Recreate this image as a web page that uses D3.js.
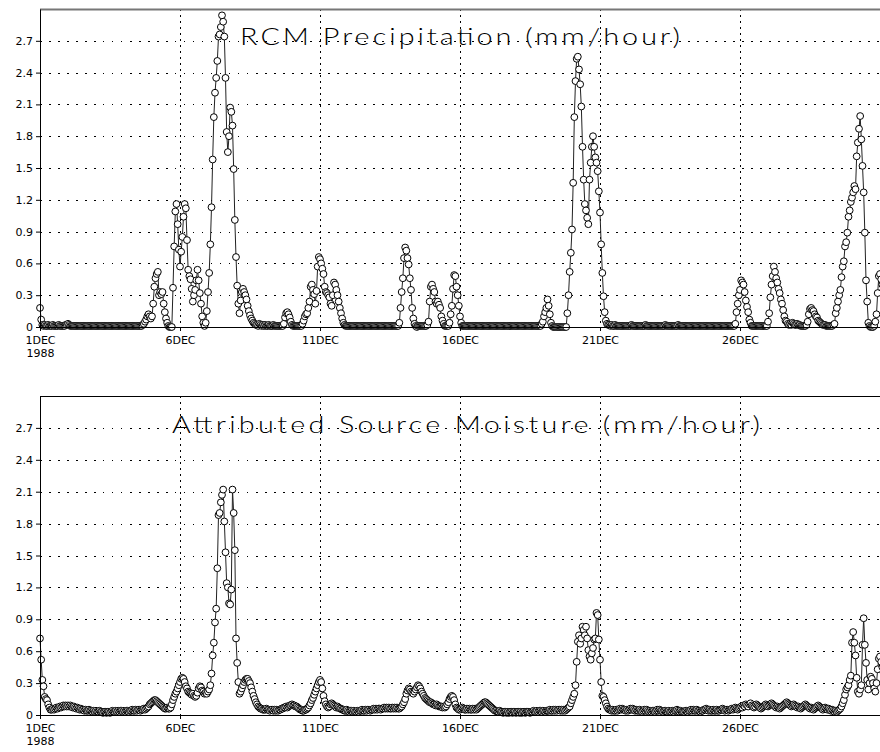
<!DOCTYPE html>
<html>
<head>
<meta charset="utf-8">
<script src="https://cdn.jsdelivr.net/npm/d3@7"></script>
<style>
  body { margin: 0; background: #fff; }
  svg { display: block; }
  .tick text { font-family: "DejaVu Sans", sans-serif; font-size: 11px; fill: #000; }
</style>
</head>
<body>
<div id="chart"></div>
<script>
// hourly values from 1 Dec 1988 00z, one line per day
var precip = [
  0.18,0.07,0.02,0.01,0.02,0.01,0.01,0.02,0.01,0.01,0.01,0.02,0.01,0.01,0.01,0.01,0.02,0.01,0.01,0.01,0.01,0.01,0.02,0.02,
  0.03,0.02,0.01,0.01,0.01,0.01,0.01,0.01,0.01,0.01,0.01,0.01,0.01,0.01,0.01,0.01,0.01,0.01,0.01,0.01,0.01,0.01,0.01,0.01,
  0.01,0.01,0.01,0.01,0.01,0.01,0.01,0.01,0.01,0.01,0.01,0.01,0.01,0.01,0.01,0.01,0.01,0.01,0.01,0.01,0.01,0.01,0.01,0.01,
  0.01,0.01,0.01,0.01,0.01,0.01,0.01,0.01,0.01,0.01,0.01,0.01,0.01,0.01,0.01,0.01,0.02,0.03,0.05,0.07,0.1,0.12,0.1,0.08,
  0.1,0.22,0.38,0.46,0.5,0.52,0.3,0.33,0.31,0.33,0.22,0.14,0.08,0.04,0.01,0,0,0,0.37,0.76,1.09,1.16,0.97,0.73,
  0.57,0.71,0.85,1.04,1.16,1.12,0.82,0.54,0.48,0.45,0.36,0.24,0.3,0.35,0.44,0.54,0.44,0.32,0.22,0.1,0.04,0.01,0.04,0.15,
  0.33,0.51,0.78,1.13,1.58,1.98,2.21,2.35,2.51,2.74,2.76,2.83,2.94,2.88,2.74,2.35,1.84,1.65,1.8,2.07,2.03,1.9,1.49,1.01,
  0.66,0.39,0.22,0.13,0.25,0.33,0.36,0.33,0.3,0.26,0.2,0.15,0.11,0.08,0.06,0.04,0.03,0.02,0.02,0.01,0.03,0.02,0.01,0.02,
  0.01,0.02,0.01,0.01,0.02,0.01,0.01,0.01,0.02,0.01,0.01,0.01,0.01,0.01,0.01,0.01,0.01,0.03,0.09,0.13,0.14,0.12,0.09,0.05,
  0.02,0.01,0.01,0.01,0.01,0.01,0.01,0.01,0.01,0.03,0.06,0.1,0.12,0.13,0.18,0.24,0.38,0.4,0.35,0.31,0.22,0.34,0.57,0.66,
  0.64,0.6,0.55,0.5,0.38,0.33,0.32,0.3,0.28,0.22,0.2,0.3,0.42,0.4,0.35,0.3,0.24,0.18,0.13,0.08,0.04,0.02,0.01,0.01,
  0.01,0.01,0.01,0.01,0.01,0.01,0.01,0.01,0.01,0.01,0.01,0.01,0.01,0.01,0.01,0.01,0.01,0.01,0.01,0.01,0.01,0.01,0.01,0.01,
  0.01,0.01,0.01,0.01,0.01,0.01,0.01,0.01,0.01,0.01,0.01,0.01,0.01,0.01,0.01,0.01,0.01,0.01,0.01,0.01,0.04,0.18,0.33,0.46,
  0.65,0.75,0.72,0.65,0.59,0.46,0.35,0.18,0.08,0.03,0.01,0,0.01,0.01,0.01,0.01,0.01,0.01,0.01,0.01,0.02,0.05,0.24,0.38,
  0.4,0.36,0.33,0.24,0.22,0.24,0.21,0.18,0.1,0.06,0.03,0.01,0.01,0.01,0.01,0.04,0.12,0.2,0.36,0.49,0.48,0.38,0.3,0.2,
  0.1,0.04,0.01,0.01,0.01,0.01,0.01,0.01,0.01,0.01,0.01,0.01,0.01,0.01,0.01,0.01,0.01,0.01,0.01,0.01,0.01,0.01,0.01,0.01,
  0.01,0.01,0.01,0.01,0.01,0.01,0.01,0.01,0.01,0.01,0.01,0.01,0.01,0.01,0.01,0.01,0.01,0.01,0.01,0.01,0.01,0.01,0.01,0.01,
  0.01,0.01,0.01,0.01,0.01,0.01,0.01,0.01,0.01,0.01,0.01,0.01,0.01,0.01,0.01,0.01,0.01,0.01,0.01,0.01,0.01,0.01,0.03,0.05,
  0.1,0.14,0.18,0.26,0.2,0.12,0.04,0.01,0,0,0,0,0,0,0,0,0,0,0,0,0.13,0.3,0.52,0.7,
  0.92,1.36,1.98,2.32,2.53,2.55,2.43,2.29,2.08,1.7,1.39,1.16,1.1,1.03,0.97,1.39,1.55,1.7,1.8,1.7,1.6,1.55,1.47,1.28,
  1.08,0.78,0.51,0.29,0.14,0.06,0.03,0.02,0.02,0.01,0.02,0.01,0.01,0.02,0.01,0.01,0.01,0.01,0.01,0.01,0.01,0.01,0.01,0.01,
  0.01,0.01,0.01,0.02,0.01,0.01,0.01,0.01,0.01,0.01,0.01,0.01,0.01,0.01,0.01,0.02,0.01,0.01,0.01,0.01,0.01,0.01,0.01,0.01,
  0.01,0.01,0.01,0.01,0.01,0.01,0.01,0.01,0.02,0.01,0.01,0.01,0.01,0.01,0.01,0.01,0.01,0.01,0.01,0.02,0.01,0.01,0.01,0.01,
  0.01,0.01,0.01,0.01,0.01,0.01,0.01,0.01,0.01,0.01,0.01,0.01,0.01,0.01,0.01,0.01,0.01,0.01,0.01,0.01,0.01,0.01,0.01,0.01,
  0.01,0.01,0.01,0.01,0.01,0.01,0.01,0.01,0.01,0.01,0.01,0.01,0.01,0.01,0.01,0.01,0.01,0.01,0.01,0.01,0.03,0.14,0.22,0.3,
  0.35,0.44,0.42,0.4,0.33,0.25,0.19,0.14,0.07,0.04,0.01,0.01,0.01,0.01,0.01,0.01,0.01,0.01,0.01,0.01,0.01,0.01,0.01,0.01,
  0.05,0.13,0.28,0.4,0.48,0.57,0.52,0.46,0.42,0.36,0.32,0.26,0.22,0.16,0.1,0.06,0.05,0.03,0.02,0.03,0.02,0.04,0.03,0.02,
  0.02,0.03,0.02,0.02,0.01,0.01,0.01,0.01,0.01,0.02,0.05,0.12,0.17,0.18,0.16,0.15,0.12,0.1,0.09,0.06,0.05,0.04,0.03,0.02,
  0.02,0.02,0.01,0.01,0.01,0.01,0.01,0.01,0.02,0.03,0.13,0.18,0.24,0.3,0.35,0.47,0.57,0.62,0.76,0.8,0.89,1.04,1.1,1.18,
  1.22,1.27,1.33,1.3,1.61,1.74,1.87,1.99,1.77,1.52,1.27,0.89,0.44,0.24,0.04,0.01,0,0,0,0.01,0.05,0.12,0.32,0.48,
  0.5,0.45,0.4,0.35
];

var moisture = [
  0.72,0.52,0.33,0.27,0.17,0.15,0.14,0.1,0.07,0.05,0.05,0.06,0.05,0.06,0.07,0.06,0.07,0.08,0.07,0.08,0.09,0.08,0.09,0.08,
  0.09,0.08,0.09,0.08,0.07,0.08,0.07,0.06,0.07,0.06,0.05,0.06,0.05,0.05,0.04,0.05,0.04,0.04,0.05,0.04,0.04,0.03,0.04,0.03,
  0.04,0.03,0.03,0.04,0.03,0.03,0.02,0.03,0.03,0.02,0.03,0.03,0.02,0.03,0.04,0.03,0.03,0.04,0.03,0.04,0.03,0.04,0.04,0.03,
  0.04,0.03,0.04,0.04,0.03,0.04,0.04,0.05,0.04,0.04,0.05,0.04,0.05,0.05,0.04,0.05,0.05,0.06,0.05,0.06,0.07,0.08,0.1,0.11,
  0.12,0.13,0.14,0.14,0.13,0.12,0.11,0.1,0.09,0.08,0.07,0.06,0.06,0.07,0.06,0.06,0.07,0.1,0.14,0.17,0.2,0.22,0.25,0.28,
  0.31,0.34,0.35,0.34,0.31,0.27,0.25,0.22,0.21,0.2,0.19,0.2,0.18,0.17,0.18,0.21,0.25,0.27,0.26,0.23,0.22,0.2,0.21,0.2,
  0.22,0.24,0.28,0.39,0.56,0.68,0.87,1.0,1.38,1.88,1.9,2.0,2.07,2.12,1.82,1.53,1.24,1.2,1.05,1.04,1.18,2.12,1.9,1.55,
  0.72,0.49,0.31,0.2,0.22,0.25,0.28,0.31,0.33,0.34,0.34,0.32,0.3,0.26,0.22,0.18,0.15,0.12,0.1,0.08,0.07,0.06,0.06,0.05,
  0.05,0.05,0.06,0.05,0.05,0.04,0.05,0.05,0.04,0.05,0.04,0.05,0.04,0.05,0.05,0.06,0.06,0.07,0.07,0.08,0.07,0.08,0.09,0.09,
  0.1,0.09,0.09,0.08,0.08,0.07,0.06,0.05,0.05,0.04,0.04,0.05,0.05,0.06,0.07,0.09,0.11,0.14,0.16,0.19,0.22,0.25,0.28,0.31,
  0.33,0.31,0.25,0.18,0.13,0.1,0.08,0.07,0.08,0.1,0.11,0.1,0.09,0.08,0.07,0.08,0.07,0.06,0.06,0.05,0.05,0.04,0.04,0.05,
  0.04,0.03,0.04,0.04,0.03,0.04,0.03,0.03,0.04,0.03,0.04,0.04,0.05,0.04,0.04,0.05,0.04,0.05,0.05,0.04,0.05,0.05,0.06,0.05,
  0.06,0.05,0.06,0.06,0.05,0.06,0.06,0.07,0.06,0.07,0.06,0.07,0.06,0.06,0.07,0.06,0.07,0.06,0.07,0.06,0.06,0.07,0.08,0.1,
  0.12,0.15,0.2,0.23,0.25,0.24,0.22,0.21,0.2,0.22,0.24,0.26,0.28,0.27,0.25,0.22,0.2,0.18,0.16,0.15,0.14,0.13,0.12,0.12,
  0.11,0.1,0.1,0.09,0.1,0.09,0.08,0.08,0.08,0.07,0.08,0.07,0.08,0.1,0.12,0.15,0.17,0.18,0.17,0.14,0.1,0.07,0.06,0.05,
  0.05,0.06,0.07,0.06,0.05,0.05,0.06,0.05,0.06,0.05,0.05,0.06,0.05,0.06,0.05,0.06,0.07,0.08,0.09,0.1,0.11,0.12,0.12,0.11,
  0.1,0.09,0.08,0.07,0.06,0.05,0.04,0.04,0.03,0.03,0.04,0.03,0.03,0.02,0.03,0.03,0.02,0.03,0.02,0.03,0.03,0.02,0.03,0.03,
  0.02,0.03,0.03,0.02,0.03,0.02,0.03,0.03,0.02,0.03,0.03,0.03,0.02,0.03,0.03,0.04,0.03,0.03,0.04,0.03,0.04,0.04,0.03,0.04,
  0.04,0.03,0.04,0.04,0.04,0.05,0.04,0.04,0.05,0.04,0.05,0.04,0.05,0.05,0.04,0.05,0.04,0.05,0.04,0.05,0.06,0.07,0.08,0.11,
  0.14,0.17,0.2,0.28,0.5,0.69,0.75,0.67,0.72,0.83,0.8,0.75,0.83,0.72,0.61,0.55,0.52,0.58,0.63,0.71,0.72,0.96,0.94,0.71,
  0.52,0.31,0.18,0.17,0.14,0.11,0.08,0.06,0.05,0.05,0.04,0.05,0.04,0.04,0.05,0.04,0.05,0.06,0.05,0.06,0.05,0.05,0.04,0.05,
  0.04,0.05,0.06,0.05,0.06,0.05,0.04,0.05,0.04,0.04,0.05,0.04,0.03,0.04,0.05,0.04,0.05,0.04,0.03,0.04,0.03,0.04,0.04,0.03,
  0.04,0.05,0.04,0.05,0.04,0.04,0.03,0.04,0.04,0.03,0.03,0.04,0.03,0.03,0.04,0.03,0.04,0.04,0.05,0.04,0.03,0.04,0.03,0.03,
  0.03,0.04,0.04,0.03,0.04,0.04,0.05,0.04,0.05,0.04,0.04,0.05,0.04,0.04,0.03,0.04,0.04,0.05,0.05,0.06,0.05,0.04,0.05,0.04,
  0.04,0.05,0.04,0.04,0.05,0.04,0.04,0.05,0.05,0.06,0.05,0.04,0.05,0.05,0.04,0.05,0.05,0.06,0.05,0.06,0.07,0.06,0.05,0.06,
  0.07,0.08,0.07,0.09,0.08,0.1,0.09,0.08,0.1,0.11,0.09,0.08,0.07,0.08,0.1,0.09,0.08,0.07,0.06,0.07,0.08,0.09,0.1,0.09,
  0.08,0.09,0.1,0.11,0.1,0.09,0.08,0.07,0.08,0.07,0.06,0.07,0.08,0.09,0.1,0.11,0.12,0.11,0.1,0.09,0.08,0.09,0.1,0.09,
  0.08,0.07,0.08,0.07,0.06,0.07,0.08,0.09,0.1,0.09,0.08,0.07,0.06,0.07,0.06,0.05,0.06,0.07,0.08,0.09,0.08,0.07,0.06,0.05,
  0.06,0.07,0.06,0.05,0.06,0.05,0.04,0.05,0.04,0.03,0.04,0.03,0.04,0.05,0.06,0.08,0.11,0.14,0.19,0.24,0.26,0.28,0.33,0.37,
  0.68,0.78,0.68,0.56,0.35,0.22,0.2,0.24,0.28,0.66,0.91,0.66,0.49,0.33,0.24,0.3,0.36,0.34,0.3,0.25,0.22,0.3,0.43,0.53,
  0.55,0.5,0.45,0.4
];

var dayTicks = [1, 6, 11, 16, 21, 26];
var tickLabels = ["1DEC", "6DEC", "11DEC", "16DEC", "21DEC", "26DEC"];
var yearLabel = "1988";
var yTicks = [0, 0.3, 0.6, 0.9, 1.2, 1.5, 1.8, 2.1, 2.4, 2.7];
var titles = ["RCM Precipitation (mm/hour)", "Attributed Source Moisture (mm/hour)"];

var width = 880, height = 752;
var left = 40;
var stretch = 1.2; // titles are drawn wide, like the plotter font

var svg = d3.select("#chart").append("svg")
	.attr("width", width)
	.attr("height", height);

// hours since 1 Dec 00z -> pixels, 28px per day
var x = d3.scaleLinear().domain([0, 720]).range([left, 880]);

var panels = [
	{ data: precip,   title: titles[0], y0: 327, y1: 9,   tx: 240, tw: 440, ty: 45,  top: "#777" },
	{ data: moisture, title: titles[1], y0: 715, y1: 396, tx: 172, tw: 588, ty: 433, top: "#000" }
];

panels.forEach(function(p) {
	var y = d3.scaleLinear().domain([0, 3.0]).range([p.y0, p.y1]);
	var g = svg.append("g");

	// dotted grid
	g.selectAll(".hgrid")
		.data(yTicks.slice(1))
		.enter().append("line")
		.attr("x1", left).attr("x2", width)
		.attr("y1", function(d) { return Math.round(y(d)) + 0.5; })
		.attr("y2", function(d) { return Math.round(y(d)) + 0.5; })
		.attr("stroke", "#000")
		.attr("stroke-width", 1)
		.attr("stroke-dasharray", "1.5,7.5")
		.attr("shape-rendering", "crispEdges");

	g.selectAll(".vgrid")
		.data(dayTicks.slice(1))
		.enter().append("line")
		.attr("x1", function(d) { return Math.round(x((d - 1) * 24)) + 0.5; })
		.attr("x2", function(d) { return Math.round(x((d - 1) * 24)) + 0.5; })
		.attr("y1", p.y1).attr("y2", p.y0)
		.attr("stroke", "#000")
		.attr("stroke-width", 1)
		.attr("stroke-dasharray", "1.5,4.5")
		.attr("shape-rendering", "crispEdges");

	// title
	g.append("g")
		.attr("transform", "scale(" + stretch + ",1)")
		.append("text")
		.attr("x", p.tx / stretch)
		.attr("y", p.ty)
		.attr("textLength", p.tw / stretch)
		.attr("lengthAdjust", "spacing")
		.style("font-family", "Lato, 'DejaVu Sans', sans-serif")
		.style("font-weight", 300)
		.style("font-size", "24px")
		.style("fill", "#000")
		.text(p.title);

	// top frame
	g.append("line")
		.attr("x1", left).attr("x2", width)
		.attr("y1", p.y1 + 0.5).attr("y2", p.y1 + 0.5)
		.attr("stroke", p.top)
		.attr("stroke-width", p.top === "#000" ? 1 : 2);

	// series
	var line = d3.line()
		.x(function(d, i) { return x(i); })
		.y(function(d) { return y(d); });

	g.append("path")
		.datum(p.data)
		.attr("fill", "none")
		.attr("stroke", "#222")
		.attr("stroke-width", 1)
		.attr("d", line);

	g.selectAll(".mark")
		.data(p.data)
		.enter().append("circle")
		.attr("cx", function(d, i) { return x(i); })
		.attr("cy", function(d) { return y(d); })
		.attr("r", 3.4)
		.attr("fill", "#fff")
		.attr("stroke", "#000")
		.attr("stroke-width", 1);

	// axes
	var yAxis = d3.axisLeft(y)
		.tickValues(yTicks)
		.tickSize(4)
		.tickSizeOuter(0)
		.tickFormat(function(d) { return d === 0 ? "0" : d3.format(".1f")(d); });

	g.append("g")
		.attr("transform", "translate(" + left + ",0)")
		.call(yAxis)
		.call(function(a) {
			a.select(".domain").attr("stroke", "#000");
			a.selectAll(".tick text").attr("x", -7).attr("dy", "0.32em");
		});

	var xAxis = d3.axisBottom(x)
		.tickValues(dayTicks.map(function(d) { return (d - 1) * 24; }))
		.tickSize(4)
		.tickSizeOuter(0)
		.tickFormat(function(d, i) { return tickLabels[i]; });

	var xa = g.append("g")
		.attr("transform", "translate(0," + p.y0 + ")")
		.call(xAxis);
	xa.select(".domain").attr("stroke", "#000");
	xa.selectAll(".tick text").attr("y", 9).attr("dy", "0.71em");
	xa.select(".tick")
		.append("text")
		.attr("y", 22)
		.attr("dy", "0.71em")
		.attr("fill", "#000")
		.text(yearLabel);
});
</script>
</body>
</html>
